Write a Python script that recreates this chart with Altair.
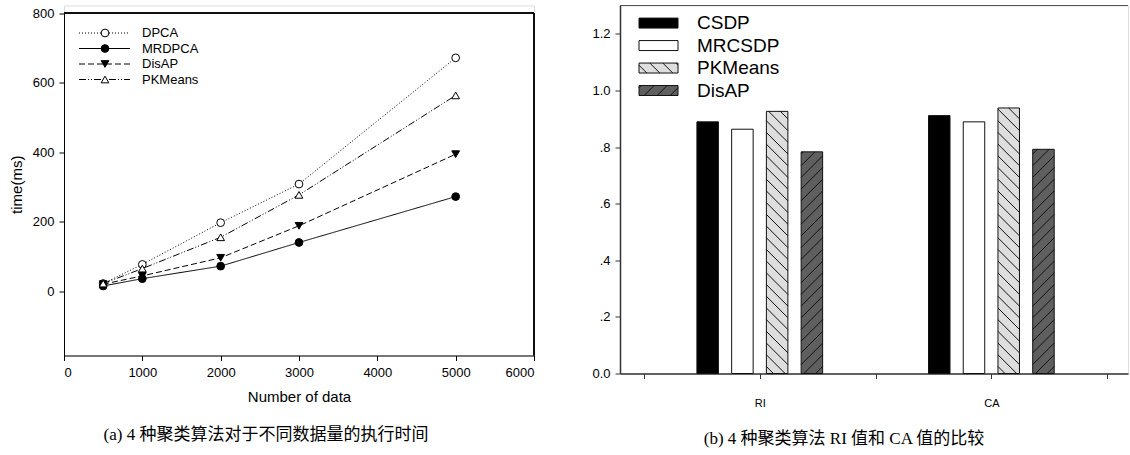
import altair as alt
import pandas as pd

# ---------------- data: panel (a) ----------------
sizes = [500, 1000, 2000, 3000, 5000]
series_names = ["DPCA", "MRDPCA", "DisAP", "PKMeans"]
dpca = [22, 77, 197, 308, 671]
mrdpca = [15, 36, 72, 140, 272]
disap = [20, 44, 96, 188, 394]
pkmeans = [22, 65, 155, 277, 563]

# ---------------- data: panel (b) ----------------
metrics = ["RI", "CA"]
methods = ["CSDP", "MRCSDP", "PKMeans", "DisAP"]
csdp_v = [0.889, 0.911]
mrcsdp_v = [0.863, 0.889]
pkmeans_v = [0.926, 0.938]
disap_v = [0.783, 0.792]

caption_a = "(a) 4 种聚类算法对于不同数据量的执行时间"
caption_b = "(b) 4 种聚类算法 RI 值和 CA 值的比较"

SANS = "Liberation Sans, Arial, sans-serif"
CAP_FONT = "'Liberation Serif', 'Noto Sans CJK SC', serif"

# ================= panel (a) =================
L_W, L_H = 470, 350
TOP_GAP = 7.5
Y_DOM = [-185, 800]

rows = []
for name, vals in zip(series_names, [dpca, mrdpca, disap, pkmeans]):
    for n, t in zip(sizes, vals):
        rows.append({"series": name, "n": n, "time": t})
df_left = pd.DataFrame(rows)

dash_scale = alt.Scale(domain=series_names, range=[[1, 2], [1, 0], [6, 3], [7, 2, 1, 2, 1, 2]])
shape_scale = alt.Scale(domain=series_names, range=["circle", "circle", "triangle-down", "triangle-up"])
fill_scale = alt.Scale(domain=series_names, range=["white", "black", "black", "white"])

axis_common = dict(grid=False, tickSize=5, tickColor="black", domainColor="black",
                   labelFont=SANS, labelFontSize=13, labelColor="black",
                   titleFont=SANS, titleFontSize=15, titleFontWeight="normal", titleColor="black")

x_enc = alt.X("n:Q", scale=alt.Scale(domain=[0, 6000], nice=False),
              axis=alt.Axis(values=[0, 1000, 2000, 3000, 4000, 5000, 6000], format="d",
                            title="Number of data", labelPadding=6, titlePadding=10, **axis_common))
y_enc = alt.Y("time:Q", scale=alt.Scale(domain=Y_DOM, range=[L_H, TOP_GAP], nice=False, zero=False),
              axis=alt.Axis(values=[0, 200, 400, 600, 800], format="d", title="time(ms)",
                            labelPadding=5, titlePadding=8, **axis_common))

lines = alt.Chart(df_left).mark_line(color="black", strokeWidth=1).encode(
    x=x_enc, y=y_enc,
    strokeDash=alt.StrokeDash("series:N", scale=dash_scale, legend=None),
    detail="series:N",
)
points = alt.Chart(df_left).mark_point(filled=True, stroke="black", strokeWidth=1, size=60, opacity=1).encode(
    x=x_enc, y=y_enc,
    shape=alt.Shape("series:N", scale=shape_scale, legend=None),
    fill=alt.Fill("series:N", scale=fill_scale, legend=None),
)

leg_df = pd.DataFrame({"series": series_names})
box_top = alt.Chart(leg_df).mark_rule(color="black", strokeWidth=1).encode(
    x=alt.value(0), x2=alt.value(L_W), y=alt.value(TOP_GAP))
box_right = alt.Chart(leg_df).mark_rule(color="black", strokeWidth=1).encode(
    x=alt.value(L_W), y=alt.value(TOP_GAP), y2=alt.value(L_H))

leg_y = alt.Y("series:N", scale=alt.Scale(type="point", domain=series_names,
                                           range=[20 + TOP_GAP, 66.5 + TOP_GAP], padding=0), axis=None)
leg_rule = alt.Chart(leg_df).mark_rule(color="black", strokeWidth=1).encode(
    x=alt.value(15), x2=alt.value(66), y=leg_y,
    strokeDash=alt.StrokeDash("series:N", scale=dash_scale, legend=None),
)
leg_pt = alt.Chart(leg_df).mark_point(filled=True, stroke="black", strokeWidth=1, size=60, opacity=1).encode(
    x=alt.value(41), y=leg_y,
    shape=alt.Shape("series:N", scale=shape_scale, legend=None),
    fill=alt.Fill("series:N", scale=fill_scale, legend=None),
)
leg_txt = alt.Chart(leg_df).mark_text(align="left", baseline="middle", font=SANS, fontSize=13, color="black").encode(
    x=alt.value(78), y=leg_y, text="series:N",
)

left = alt.layer(
    alt.layer(lines, points, box_top, box_right),
    alt.layer(leg_rule, leg_pt, leg_txt),
).resolve_scale(y="independent").properties(
    width=L_W, height=L_H,
    title=alt.TitleParams(caption_a, orient="bottom", font=CAP_FONT, fontSize=17, fontWeight="normal",
                          color="black", offset=22, anchor="middle", dx=-33),
)

# ================= panel (b) =================
R_W, R_H = 508, 368
XR_DOM = [-0.207, 4.18]
YR_DOM = [0, 1.3]
kx = R_W / (XR_DOM[1] - XR_DOM[0])
ky = R_H / (YR_DOM[1] - YR_DOM[0])

group_pos = [1, 3]
offsets = [-0.45, -0.15, 0.15, 0.45]
bar_w = 21.5 / kx
hatch_dir = {"PKMeans": "back", "DisAP": "fwd"}
HATCH_STEP = 11.7

values_by_method = {"CSDP": csdp_v, "MRCSDP": mrcsdp_v, "PKMeans": pkmeans_v, "DisAP": disap_v}


def hatch(width_px, height_px, step, direction):
    segs = []
    if direction == "back":  # "\" in screen: h = c - u
        c = step * 0.6
        while c < width_px + height_px:
            u1, u2 = max(0.0, c - height_px), min(width_px, c)
            if u2 > u1:
                segs.append((u1, c - u1, u2, c - u2))
            c += step
    else:  # "/" in screen: h = c + u
        c = -width_px + step * 0.6
        while c < height_px:
            u1, u2 = max(0.0, -c), min(width_px, height_px - c)
            if u2 > u1:
                segs.append((u1, c + u1, u2, c + u2))
            c += step
    return segs


bar_rows, hatch_rows = [], []
for gi, metric in enumerate(metrics):
    for mi, method in enumerate(methods):
        v = values_by_method[method][gi]
        xc = group_pos[gi] + offsets[mi]
        x0, x1 = xc - bar_w / 2, xc + bar_w / 2
        bar_rows.append({"metric": metric, "method": method, "x0": x0, "x1": x1, "v": v, "zero": 0.0})
        if method in hatch_dir:
            for (u1, h1, u2, h2) in hatch(bar_w * kx, v * ky, HATCH_STEP, hatch_dir[method]):
                hatch_rows.append({"hx1": x0 + u1 / kx, "hx2": x0 + u2 / kx, "hy1": h1 / ky, "hy2": h2 / ky})
df_bars = pd.DataFrame(bar_rows)
df_hatch = pd.DataFrame(hatch_rows)

xr_scale = alt.Scale(domain=XR_DOM, nice=False, zero=False)
yr_scale = alt.Scale(domain=YR_DOM, nice=False)

xr_axis = alt.Axis(values=[0, 1, 2, 3, 4], title=None,
                   labelExpr="datum.value == 1 ? 'RI' : (datum.value == 3 ? 'CA' : '')",
                   grid=False, tickSize=5, tickColor="#333", domainColor="#333", domainWidth=1.5,
                   labelFont=SANS, labelFontSize=11, labelColor="black", labelPadding=19)
yr_axis = alt.Axis(values=[0, 0.2, 0.4, 0.6, 0.8, 1.0, 1.2], title=None,
                   labelExpr="datum.value == 0 ? '0.0' : (datum.value >= 1 ? format(datum.value, '.1f') : replace(format(datum.value, '.1f'), '0.', '.'))",
                   grid=False, tickSize=5, tickColor="#333", domainColor="#333", domainWidth=1.5,
                   labelFont=SANS, labelFontSize=13, labelColor="black", labelPadding=5)

fill_b = alt.Scale(domain=methods, range=["black", "white", "#dedede", "#5f5f5f"])

bars = alt.Chart(df_bars).mark_rect(stroke="#111", strokeWidth=1).encode(
    x=alt.X("x0:Q", scale=xr_scale, axis=xr_axis), x2="x1:Q",
    y=alt.Y("v:Q", scale=yr_scale, axis=yr_axis), y2="zero:Q",
    fill=alt.Fill("method:N", scale=fill_b, legend=None),
)
hatch_layer = alt.Chart(df_hatch).mark_rule(color="#111", strokeWidth=1).encode(
    x=alt.X("hx1:Q", scale=xr_scale, axis=xr_axis), x2="hx2:Q",
    y=alt.Y("hy1:Q", scale=yr_scale, axis=yr_axis), y2="hy2:Q",
)
top_line = alt.Chart(df_bars).mark_rule(color="#555", strokeWidth=1).encode(
    x=alt.value(0), x2=alt.value(R_W), y=alt.value(0),
)

# legend of panel (b)
leg_b = pd.DataFrame({"method": methods})
band_y = alt.Y("method:N", scale=alt.Scale(type="band", domain=methods, range=[12.6, 90],
                                            paddingInner=0.556, paddingOuter=0), axis=None)
SW_X0, SW_X1 = 19, 58
leg_sw = alt.Chart(leg_b).mark_rect(stroke="#111", strokeWidth=1).encode(
    x=alt.value(SW_X0), x2=alt.value(SW_X1), y=band_y,
    fill=alt.Fill("method:N", scale=fill_b, legend=None),
)
leg_tx = alt.Chart(leg_b).mark_text(align="left", baseline="middle", font=SANS, fontSize=19, color="black").encode(
    x=alt.value(77), y=band_y, text="method:N",
)
# hatch inside legend swatches (pixel-identity scales)
sw_rows = []
step_px = (90 - 12.6) / (4 - 0.556)
band_h = step_px * (1 - 0.556)
for mi, method in enumerate(methods):
    if method in hatch_dir:
        top = 12.6 + mi * step_px
        bottom = top + band_h
        for (u1, h1, u2, h2) in hatch(SW_X1 - SW_X0, band_h, 13, hatch_dir[method]):
            sw_rows.append({"px1": SW_X0 + u1, "px2": SW_X0 + u2, "py1": bottom - h1, "py2": bottom - h2})
df_sw = pd.DataFrame(sw_rows)
leg_hatch = alt.Chart(df_sw).mark_rule(color="#111", strokeWidth=1).encode(
    x=alt.X("px1:Q", scale=alt.Scale(domain=[0, R_W], range=[0, R_W], nice=False, zero=False), axis=None),
    x2="px2:Q",
    y=alt.Y("py1:Q", scale=alt.Scale(domain=[0, R_H], range=[0, R_H], nice=False, zero=False), axis=None),
    y2="py2:Q",
)

right = alt.layer(
    alt.layer(bars, hatch_layer, top_line),
    alt.layer(leg_sw, leg_tx),
    leg_hatch,
).resolve_scale(x="independent", y="independent").properties(
    width=R_W, height=R_H,
    title=alt.TitleParams(caption_b, orient="bottom", font=CAP_FONT, fontSize=17, fontWeight="normal",
                          color="black", offset=22, anchor="middle", dx=-30),
)

chart = alt.hconcat(left, right, spacing=56).resolve_scale(
    fill="independent", shape="independent", strokeDash="independent",
).properties(
    padding={"left": 8, "top": 4.5, "right": 0, "bottom": 0},
).configure_view(stroke=None).configure(background="white")

chart.save("out.html", embed_options={"renderer": "svg", "actions": False})
